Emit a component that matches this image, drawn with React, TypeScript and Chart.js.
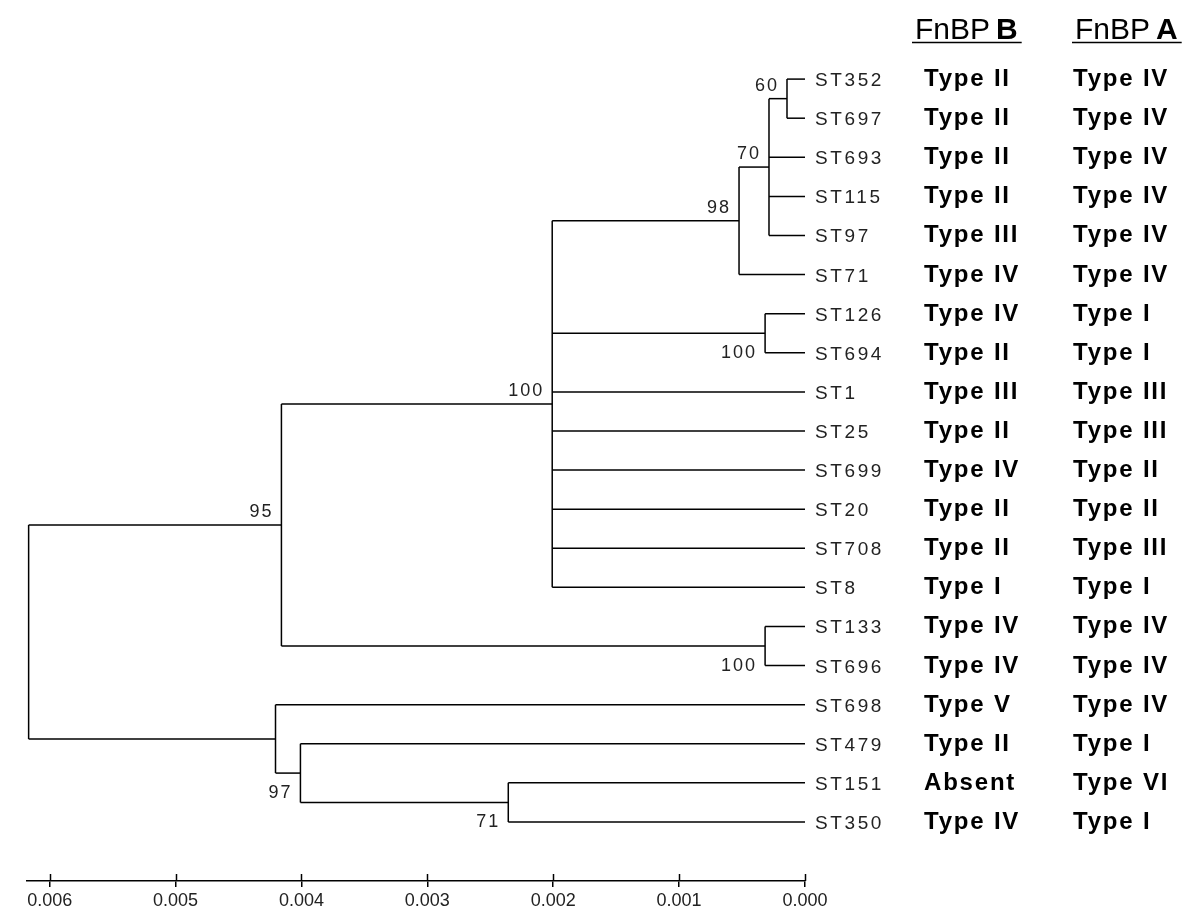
import React, { useEffect, useRef } from 'react';
import { Chart, registerables } from 'chart.js';

Chart.register(...registerables);

// ---- data ----
const leafNames = ['ST352', 'ST697', 'ST693', 'ST115', 'ST97', 'ST71', 'ST126', 'ST694', 'ST1', 'ST25', 'ST699', 'ST20', 'ST708', 'ST8', 'ST133', 'ST696', 'ST698', 'ST479', 'ST151', 'ST350'];
const fnbpB = ['Type II', 'Type II', 'Type II', 'Type II', 'Type III', 'Type IV', 'Type IV', 'Type II', 'Type III', 'Type II', 'Type IV', 'Type II', 'Type II', 'Type I', 'Type IV', 'Type IV', 'Type V', 'Type II', 'Absent', 'Type IV'];
const fnbpA = ['Type IV', 'Type IV', 'Type IV', 'Type IV', 'Type IV', 'Type IV', 'Type I', 'Type I', 'Type III', 'Type III', 'Type II', 'Type II', 'Type III', 'Type I', 'Type IV', 'Type IV', 'Type IV', 'Type I', 'Type VI', 'Type I'];

const nodeIds = ['n60', 'n70', 'n98', 'n126', 'n100', 'n133', 'n95', 'n71', 'n97', 'n698', 'root'];
const nodeHeights = [0.000143, 0.000286, 0.000524, 0.000317, 0.002008, 0.000317, 0.004159, 0.002357, 0.004008, 0.004206, 0.006167];
const nodeChildren = [
  ['ST352', 'ST697'],
  ['n60', 'ST693', 'ST115', 'ST97'],
  ['n70', 'ST71'],
  ['ST126', 'ST694'],
  ['n98', 'n126', 'ST1', 'ST25', 'ST699', 'ST20', 'ST708', 'ST8'],
  ['ST133', 'ST696'],
  ['n100', 'n133'],
  ['ST151', 'ST350'],
  ['ST479', 'n71'],
  ['ST698', 'n97'],
  ['n95', 'n698'],
];
const nodeSupport: (number | null)[] = [60, 70, 98, 100, 100, 100, 95, 71, 97, null, null];
const axisTicks = [0.006, 0.005, 0.004, 0.003, 0.002, 0.001, 0.0];
const headerB = ['FnBP', 'B'];
const headerA = ['FnBP', 'A'];

// ---- tree geometry in data units ----
function posOf(id: string): { x: number; y: number } {
  const li = leafNames.indexOf(id);
  if (li >= 0) return { x: 0, y: li };
  const ni = nodeIds.indexOf(id);
  const ch = nodeChildren[ni];
  const a = posOf(ch[0]);
  const b = posOf(ch[ch.length - 1]);
  return { x: nodeHeights[ni], y: (a.y + b.y) / 2 };
}

function buildSegments() {
  const segs: { x: number; y: number }[][] = [];
  nodeIds.forEach((id, ni) => {
    const p = posOf(id);
    const ch = nodeChildren[ni];
    const first = posOf(ch[0]);
    const last = posOf(ch[ch.length - 1]);
    segs.push([{ x: p.x, y: first.y }, { x: p.x, y: last.y }]);
    ch.forEach((c) => {
      const cp = posOf(c);
      segs.push([{ x: p.x, y: cp.y }, { x: cp.x, y: cp.y }]);
    });
  });
  return segs;
}

const belowLabels = new Set(['n126', 'n133', 'n97', 'n71']);

const textPlugin = {
  id: 'dendroText',
  afterDraw(chart: any) {
    const ctx: CanvasRenderingContext2D = chart.ctx;
    const xs = chart.scales.x;
    const ys = chart.scales.y;
    ctx.save();

    // upward half of axis ticks
    ctx.strokeStyle = '#000';
    ctx.lineWidth = 1.5;
    const axisY = chart.chartArea.bottom;
    axisTicks.forEach((v) => {
      const px = Math.round(xs.getPixelForValue(v)) + 0.5;
      ctx.beginPath();
      ctx.moveTo(px, axisY);
      ctx.lineTo(px, axisY - 7);
      ctx.stroke();
    });

    // leaf labels
    ctx.fillStyle = '#222';
    ctx.textAlign = 'left';
    ctx.textBaseline = 'alphabetic';
    ctx.font = '19px "Liberation Sans", Arial, sans-serif';
    (ctx as any).letterSpacing = '2.6px';
    const leafX = xs.getPixelForValue(0) + 10;
    leafNames.forEach((n, i) => {
      ctx.fillText(n, leafX, ys.getPixelForValue(i) + 7);
    });

    // type columns
    ctx.fillStyle = '#000';
    ctx.font = 'bold 24px "Liberation Sans", Arial, sans-serif';
    (ctx as any).letterSpacing = '1.8px';
    leafNames.forEach((_, i) => {
      const y = ys.getPixelForValue(i) + 7;
      ctx.fillText(fnbpB[i], 924, y);
      ctx.fillText(fnbpA[i], 1073, y);
    });

    // bootstrap values
    ctx.fillStyle = '#222';
    ctx.font = '18px "Liberation Sans", Arial, sans-serif';
    (ctx as any).letterSpacing = '2px';
    ctx.textAlign = 'right';
    nodeIds.forEach((id, ni) => {
      const s = nodeSupport[ni];
      if (s == null) return;
      const p = posOf(id);
      const px = xs.getPixelForValue(p.x) - 8;
      const py = ys.getPixelForValue(p.y);
      ctx.fillText(String(s), px, belowLabels.has(id) ? py + 25 : py - 8);
    });

    // headers
    (ctx as any).letterSpacing = '0px';
    ctx.textAlign = 'left';
    const drawHeader = (parts: string[], x: number) => {
      ctx.font = '30px "Liberation Sans", Arial, sans-serif';
      ctx.fillText(parts[0], x, 39);
      const w = ctx.measureText(parts[0]).width;
      ctx.font = 'bold 30px "Liberation Sans", Arial, sans-serif';
      ctx.fillText(parts[1], x + w + 6, 39);
      const w2 = ctx.measureText(parts[1]).width;
      ctx.beginPath();
      ctx.lineWidth = 1.5;
      ctx.moveTo(x - 3, 42.5);
      ctx.lineTo(x + w + 6 + w2 + 4, 42.5);
      ctx.stroke();
    };
    ctx.fillStyle = '#000';
    drawHeader(headerB, 915);
    drawHeader(headerA, 1075);

    ctx.restore();
  },
};

export default function App() {
  const ref = useRef<HTMLCanvasElement | null>(null);
  useEffect(() => {
    document.body.style.margin = '0';
    const segs = buildSegments();
    const chart = new Chart(ref.current as HTMLCanvasElement, {
      type: 'scatter',
      data: {
        datasets: segs.map((s) => ({
          data: s,
          showLine: true,
          pointRadius: 0,
          borderColor: '#000',
          borderWidth: 1.5,
          fill: false,
          tension: 0,
        })),
      },
      options: {
        animation: false,
        responsive: false,
        devicePixelRatio: 1,
        events: [],
        layout: { padding: { left: 27, right: 395, top: 40, bottom: 0 } },
        plugins: { legend: { display: false }, tooltip: { enabled: false }, title: { display: false } },
        scales: {
          x: {
            type: 'linear',
            reverse: true,
            min: 0,
            max: 0.00618,
            afterBuildTicks: (scale: any) => {
              scale.ticks = axisTicks.map((v) => ({ value: v }));
            },
            afterFit: (scale: any) => {
              scale.height = 40;
            },
            border: { display: true, color: '#000', width: 1.5 },
            grid: { display: true, drawOnChartArea: false, drawTicks: true, tickLength: 6, color: '#000', lineWidth: 1.5 },
            ticks: {
              color: '#222',
              font: { family: '"Liberation Sans", Arial, sans-serif', size: 18 },
              padding: 3,
              maxRotation: 0,
              autoSkip: false,
              callback: (v: any) => Number(v).toFixed(3),
            },
          },
          y: {
            type: 'linear',
            reverse: true,
            min: -1,
            max: 20.51,
            display: false,
          },
        },
      },
      plugins: [textPlugin],
    });
    return () => chart.destroy();
  }, []);
  return (
    <div style={{ position: 'absolute', left: 0, top: 0, width: 1200, height: 921, background: '#fff' }}>
      <canvas ref={ref} width={1200} height={921} style={{ display: 'block' }} />
    </div>
  );
}
